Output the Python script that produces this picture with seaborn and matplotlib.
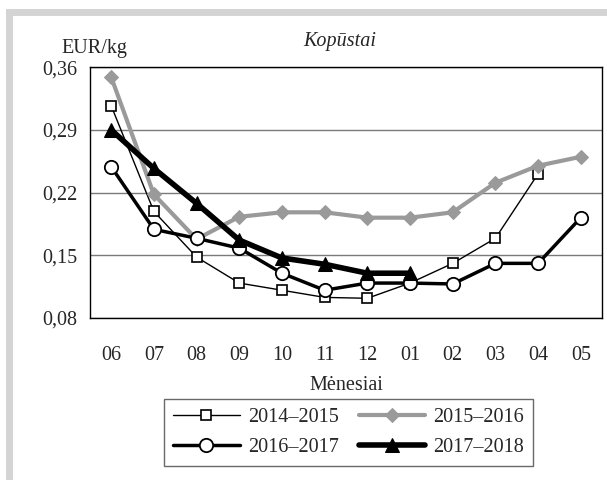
import pandas as pd
import seaborn as sns
import matplotlib.pyplot as plt
from matplotlib.patches import Rectangle
from matplotlib.ticker import FixedLocator, FuncFormatter

months = ['06', '07', '08', '09', '10', '11', '12', '01', '02', '03', '04', '05']
s2014 = [0.317, 0.199, 0.148, 0.119, 0.111, 0.103, 0.102, 0.119, 0.141, 0.169, 0.241]
s2015 = [0.349, 0.218, 0.168, 0.193, 0.198, 0.198, 0.192, 0.192, 0.198, 0.231, 0.250, 0.260]
s2016 = [0.249, 0.179, 0.169, 0.158, 0.130, 0.111, 0.119, 0.119, 0.118, 0.141, 0.141, 0.192]
s2017 = [0.290, 0.247, 0.208, 0.167, 0.147, 0.140, 0.130, 0.130]
y_ticks = [0.08, 0.15, 0.22, 0.29, 0.36]

series = {'2014–2015': s2014, '2015–2016': s2015, '2016–2017': s2016, '2017–2018': s2017}
rows = []
for name, vals in series.items():
    for i, v in enumerate(vals):
        rows.append({'pos': i, 'value': v, 'series': name})
df = pd.DataFrame(rows)

sns.set_style('white')
plt.rcParams['font.family'] = ['Liberation Serif', 'DejaVu Serif']
fs = 14.5

fig = plt.figure(figsize=(6.07, 4.80), dpi=100)
ax = fig.add_axes([0.148, 0.3375, 0.844, 0.5225])

# outer gray frame
fig.patches.append(Rectangle((0.015, -0.05), 1.2, 1.025, transform=fig.transFigure,
                             fill=False, edgecolor='#d4d4d4', linewidth=5))

styles = {
    '2014–2015': dict(color='black', linewidth=1.0, marker='s', markersize=9,
                      markerfacecolor='white', markeredgecolor='black', markeredgewidth=1.2),
    '2015–2016': dict(color='#9a9a9a', linewidth=3.0, marker='D', markersize=9,
                      markerfacecolor='#9a9a9a', markeredgecolor='#9a9a9a'),
    '2016–2017': dict(color='black', linewidth=2.5, marker='o', markersize=12,
                      markerfacecolor='white', markeredgecolor='black', markeredgewidth=1.3),
    '2017–2018': dict(color='black', linewidth=4.0, marker='^', markersize=12,
                      markerfacecolor='black', markeredgecolor='black'),
}
for name in series:
    sub = df[df['series'] == name]
    sns.lineplot(data=sub, x='pos', y='value', ax=ax, label=name, **styles[name])

ax.set_xlim(-0.5, 11.5)
ax.set_ylim(0.08, 0.36)
ax.yaxis.set_major_locator(FixedLocator(y_ticks))
ax.yaxis.set_major_formatter(FuncFormatter(lambda v, p: f'{v:.2f}'.replace('.', ',')))
ax.set_xticks(range(len(months)))
ax.set_xticklabels(months)
ax.set_xticks([i - 0.5 for i in range(len(months) + 1)], minor=True)
ax.tick_params(axis='x', which='major', length=0, pad=20, labelsize=fs)
ax.tick_params(axis='x', which='minor', length=5, width=1, color='black', direction='out')
ax.tick_params(axis='y', which='major', length=5, width=1, color='black', direction='out', labelsize=fs, pad=4)
ax.grid(axis='y', color='#7a7a7a', linewidth=1)
for sp in ax.spines.values():
    sp.set_color('black')
    sp.set_linewidth(1)

ax.set_xlabel('Mėnesiai', fontsize=fs, labelpad=8)
ax.set_ylabel('')
fig.text(0.102, 0.88, 'EUR/kg', fontsize=fs, ha='left', va='bottom')
fig.text(0.56, 0.893, 'Kopūstai', fontsize=fs, style='italic', ha='center', va='bottom')

handles, labels = ax.get_legend_handles_labels()
order = [0, 2, 1, 3]
for h in handles:
    h.set_markersize(h.get_markersize() * 0.8)
leg = ax.legend([handles[i] for i in order], [labels[i] for i in order],
                loc='upper center', bbox_to_anchor=(0.505, -0.283), ncol=2, frameon=True,
                fancybox=False, edgecolor='#444444', fontsize=fs, handlelength=3.3,
                columnspacing=1.0, handletextpad=0.4, borderpad=0.45, labelspacing=0.55)
leg.get_frame().set_linewidth(1)

fig.savefig('out.png', dpi=100)
